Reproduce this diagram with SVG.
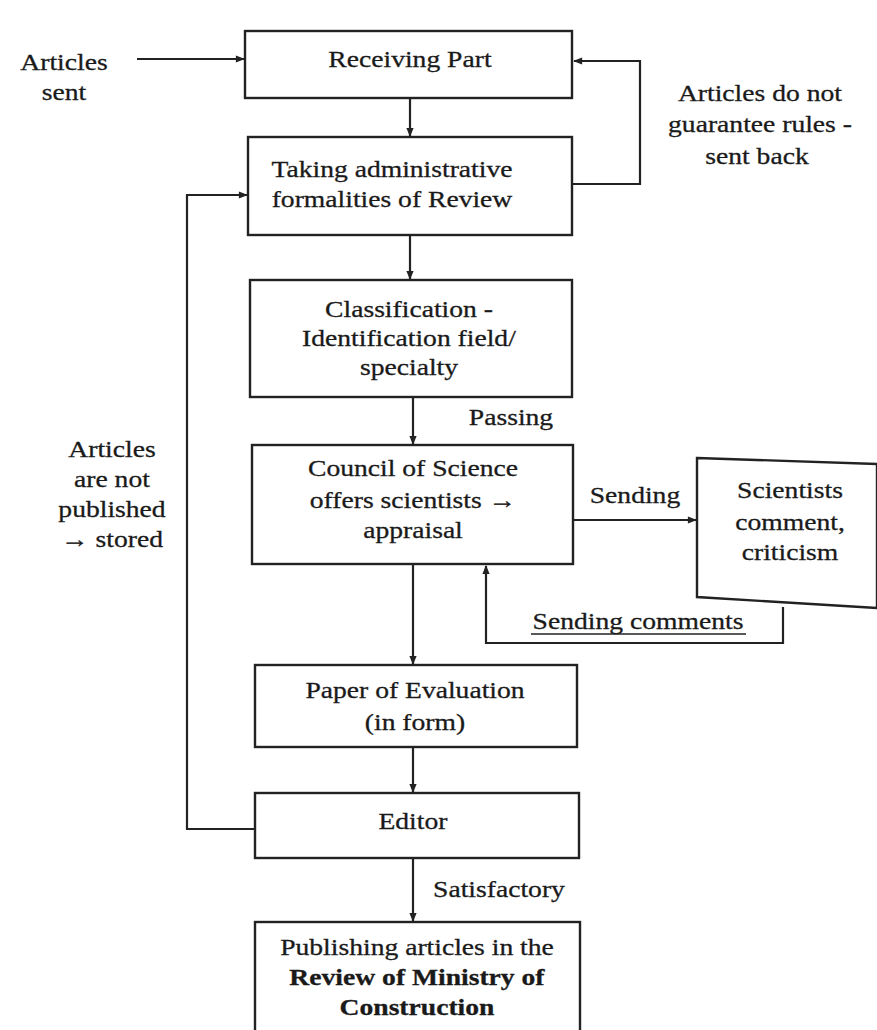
<svg xmlns="http://www.w3.org/2000/svg" width="877" height="1030" viewBox="0 0 877 1030">
<defs>
<marker id="ah" viewBox="0 0 10 10" refX="9" refY="5" markerWidth="10" markerHeight="9" orient="auto" markerUnits="userSpaceOnUse">
<path d="M0,1 L10,5 L0,9 z" fill="#222"/>
</marker>
<style>
.box{fill:#fff;stroke:#222;stroke-width:2.4}
.t{font-family:"Liberation Serif","Times New Roman",serif;font-size:24px;fill:#1a1a1a;stroke:#1a1a1a;stroke-width:0.3;text-anchor:middle;transform-box:fill-box;transform-origin:center;transform:scaleX(1.15)}
.b{font-weight:bold}
.c{fill:none;stroke:#222;stroke-width:2.2}
</style>
</defs>
<rect width="877" height="1030" fill="#fff"/>
<g id="connectors">
<path class="c" d="M137,59 L244,59" marker-end="url(#ah)"/>
<path class="c" d="M410,99 L410,136" marker-end="url(#ah)"/>
<path class="c" d="M573,184 L640,184 L640,61 L574,61" marker-end="url(#ah)"/>
<path class="c" d="M410,236 L410,279" marker-end="url(#ah)"/>
<path class="c" d="M413,398 L413,444" marker-end="url(#ah)"/>
<path class="c" d="M574,520 L696,520" marker-end="url(#ah)"/>
<path class="c" d="M783,607 L783,643 L486,643 L486,566" marker-end="url(#ah)"/>
<path class="c" d="M413,565 L413,664" marker-end="url(#ah)"/>
<path class="c" d="M413,748 L413,792" marker-end="url(#ah)"/>
<path class="c" d="M255,829 L187,829 L187,195 L247,195" marker-end="url(#ah)"/>
<path class="c" d="M413,859 L413,921" marker-end="url(#ah)"/>
<line x1="531" y1="634" x2="746" y2="634" stroke="#222" stroke-width="1.4"/>
</g>
<g id="lbl-sent"><text class="t" x="64" y="70">Articles</text><text class="t" x="64" y="100">sent</text></g>
<g id="lbl-back"><text class="t" x="760" y="101">Articles do not</text><text class="t" x="760" y="132">guarantee rules -</text><text class="t" x="757" y="164">sent back</text></g>
<g id="lbl-stored"><text class="t" x="112" y="457">Articles</text><text class="t" x="112" y="487">are not</text><text class="t" x="112" y="517">published</text><text class="t" x="112" y="547">→ stored</text></g>
<g id="lbl-passing"><text class="t" x="511" y="425">Passing</text></g>
<g id="lbl-sending"><text class="t" x="635" y="503">Sending</text></g>
<g id="lbl-comments"><text class="t" x="638" y="629">Sending comments</text></g>
<g id="lbl-satisfactory"><text class="t" x="499" y="897">Satisfactory</text></g>
<g id="n1"><rect class="box" x="245" y="31" width="327" height="67"/><text class="t" x="410" y="67">Receiving Part</text></g>
<g id="n2"><rect class="box" x="248" y="137" width="324" height="98"/><text class="t" x="392" y="177">Taking administrative</text><text class="t" x="392" y="207">formalities of Review</text></g>
<g id="n3"><rect class="box" x="250" y="280" width="322" height="117"/><text class="t" x="409" y="317">Classification -</text><text class="t" x="409" y="346">Identification field/</text><text class="t" x="409" y="375">specialty</text></g>
<g id="n4"><rect class="box" x="252" y="445" width="321" height="119"/><text class="t" x="413" y="476">Council of Science</text><text class="t" x="413" y="508">offers scientists →</text><text class="t" x="413" y="538">appraisal</text></g>
<g id="n5"><polygon class="box" points="697,458 877,464 877,608 697,597"/><text class="t" x="790" y="498">Scientists</text><text class="t" x="790" y="530">comment,</text><text class="t" x="790" y="560">criticism</text></g>
<g id="n6"><rect class="box" x="255" y="665" width="322" height="82"/><text class="t" x="415" y="698">Paper of Evaluation</text><text class="t" x="415" y="730">(in form)</text></g>
<g id="n7"><rect class="box" x="255" y="793" width="324" height="65"/><text class="t" x="413" y="829">Editor</text></g>
<g id="n8"><rect class="box" x="255" y="922" width="325" height="113"/><text class="t" x="417" y="955">Publishing articles in the</text><text class="t b" x="417" y="985">Review of Ministry of</text><text class="t b" x="417" y="1015">Construction</text></g>
</svg>
